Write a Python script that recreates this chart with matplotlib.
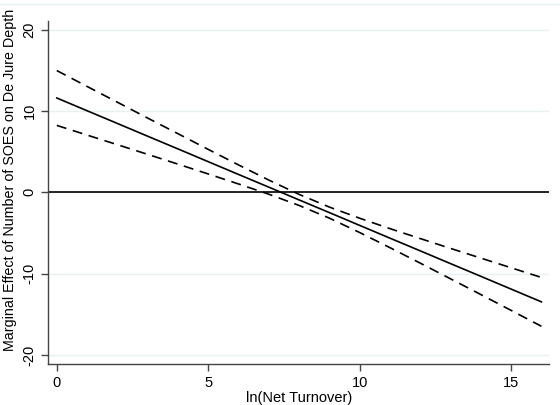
import matplotlib
matplotlib.use("Agg")
import matplotlib.pyplot as plt
from matplotlib.lines import Line2D

# values
turnover = [0, 1, 2, 3, 4, 5, 6, 7, 8, 9, 10, 11, 12, 13, 14, 15, 16]
effect = [11.60, 10.03, 8.47, 6.90, 5.34, 3.77, 2.20, 0.64, -0.93, -2.49,
          -4.06, -5.63, -7.19, -8.76, -10.32, -11.89, -13.46]
upper = [14.97, 13.02, 11.08, 9.13, 7.21, 5.28, 3.37, 1.51, -0.25, -1.81,
         -3.18, -4.46, -5.68, -6.89, -8.08, -9.27, -10.46]
lower = [8.23, 7.04, 5.86, 4.67, 3.47, 2.26, 1.03, -0.23, -1.61, -3.17,
         -4.94, -6.80, -8.70, -10.63, -12.56, -14.51, -16.46]
x_ticks = [0, 5, 10, 15]
y_ticks = [-20, -10, 0, 10, 20]

plt.rcParams["font.family"] = ["Liberation Sans", "DejaVu Sans"]
plt.rcParams["axes.unicode_minus"] = False

fig = plt.figure(figsize=(5.6, 4.05), dpi=100)
ax = fig.add_axes([0.0863, 0.1012, 0.8940, 0.8477])

# faint outer frame edge at the top, as in the reference
fig.add_artist(Line2D([0, 1], [0.990, 0.990], transform=fig.transFigure,
                      color="#e6eef0", lw=1.0))

for yt in y_ticks:
    ax.axhline(yt, color="#e8f0f2", lw=1.0, zorder=0)
ax.axhline(0, color="black", lw=1.2, zorder=2)

ax.plot(turnover, upper, color="black", lw=1.2, dashes=(6, 4))
ax.plot(turnover, effect, color="black", lw=1.2)
ax.plot(turnover, lower, color="black", lw=1.2, dashes=(6, 4))

ax.set_xlim(-0.28, 16.25)
ax.set_ylim(-21.1, 21.1)
ax.set_xticks(x_ticks)
ax.set_yticks(y_ticks)
for lab in ax.get_yticklabels():
    lab.set_rotation(90)
    lab.set_va("center")

for side in ("top", "right"):
    ax.spines[side].set_visible(False)
for side in ("left", "bottom"):
    ax.spines[side].set_color("#444444")
    ax.spines[side].set_linewidth(1.0)
ax.tick_params(colors="#444444", length=5, width=1.0, labelsize=10.5,
               labelcolor="black")

ax.set_xlabel("ln(Net Turnover)", fontsize=10.5, labelpad=1)
ax.set_ylabel("Marginal Effect of Number of SOES on De Jure Depth",
              fontsize=10.3, labelpad=1)
ax.yaxis.set_label_coords(-0.063, 0.535)

fig.savefig("out.png", dpi=100)
